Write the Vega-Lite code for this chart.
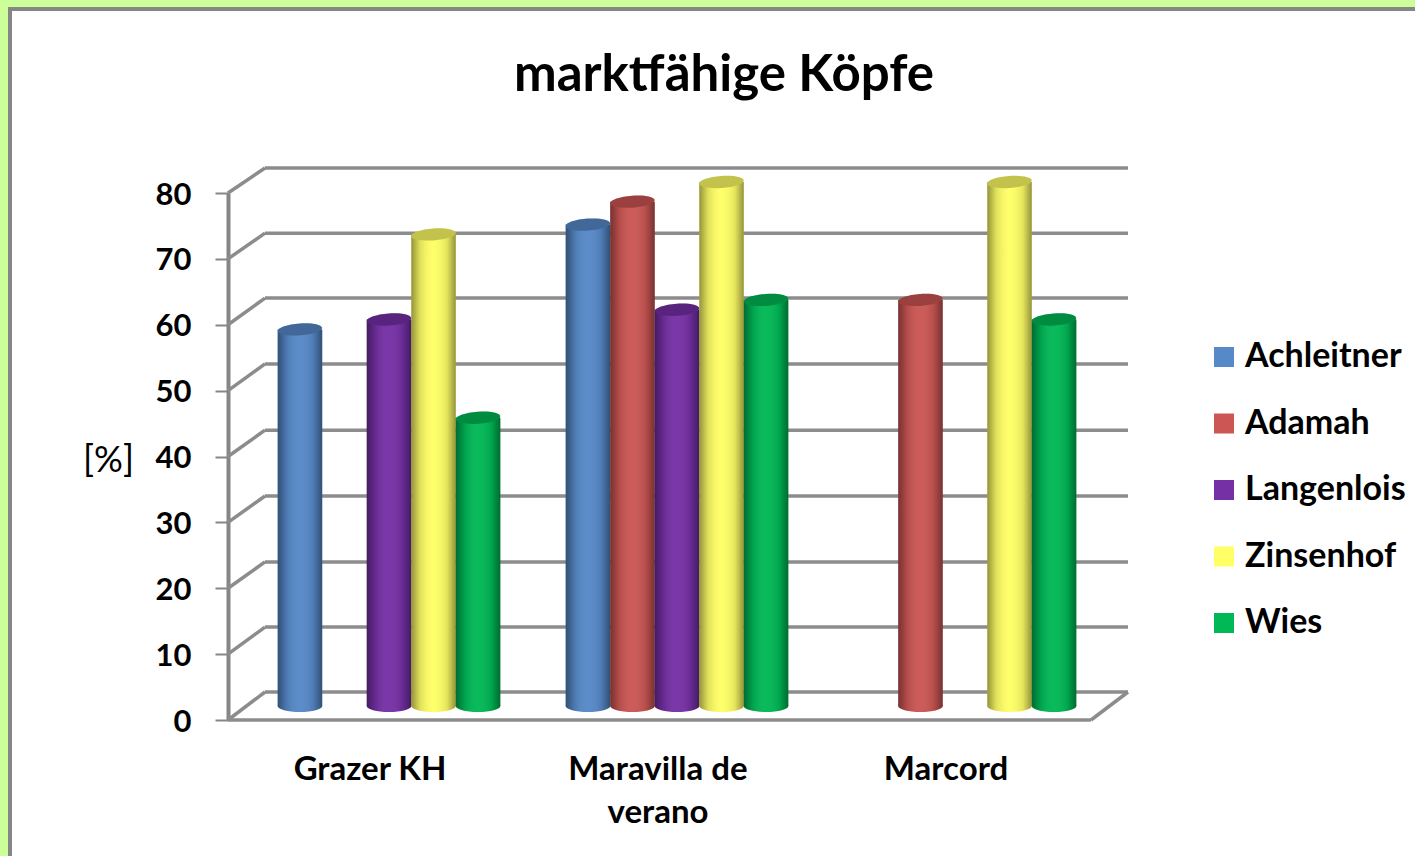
{"$schema":"https://vega.github.io/schema/vega-lite/v6.json","width":1410,"height":850,"autosize":{"type":"none"},"padding":{"left":10,"top":9,"right":-5,"bottom":-3},"background":"#ccff99","view":{"fill":"white","stroke":"#868686","strokeWidth":4},"title":{"text":"marktfähige Köpfe","font":"Lato","fontSize":51,"fontWeight":"bold","color":"#000000","anchor":"middle","dx":9,"offset":-93},"datasets":{"bars":[{"cat":"Grazer KH","series":"Achleitner","value":57.5},{"cat":"Grazer KH","series":"Langenlois","value":59},{"cat":"Grazer KH","series":"Zinsenhof","value":72},{"cat":"Grazer KH","series":"Wies","value":44},{"cat":"Maravilla de verano","series":"Achleitner","value":73.5},{"cat":"Maravilla de verano","series":"Adamah","value":77},{"cat":"Maravilla de verano","series":"Langenlois","value":60.5},{"cat":"Maravilla de verano","series":"Zinsenhof","value":80},{"cat":"Maravilla de verano","series":"Wies","value":62},{"cat":"Marcord","series":"Adamah","value":62},{"cat":"Marcord","series":"Zinsenhof","value":80},{"cat":"Marcord","series":"Wies","value":59}],"grid":[{"wx":0,"wx2":4.11,"wy":0,"wy2":4.25},{"wx":0,"wx2":4.11,"wy":10,"wy2":14.1},{"wx":0,"wx2":4.11,"wy":20,"wy2":24},{"wx":0,"wx2":4.11,"wy":30,"wy2":34},{"wx":0,"wx2":4.11,"wy":40,"wy2":44},{"wx":0,"wx2":4.11,"wy":50,"wy2":54.05},{"wx":0,"wx2":4.11,"wy":60,"wy2":64.05},{"wx":0,"wx2":4.11,"wy":70,"wy2":73.9},{"wx":0,"wx2":4.11,"wy":80,"wy2":83.8},{"wx":4.11,"wx2":100,"wy":4.25,"wy2":4.25},{"wx":4.11,"wx2":100,"wy":14.1,"wy2":14.1},{"wx":4.11,"wx2":100,"wy":24,"wy2":24},{"wx":4.11,"wx2":100,"wy":34,"wy2":34},{"wx":4.11,"wx2":100,"wy":44,"wy2":44},{"wx":4.11,"wx2":100,"wy":54.05,"wy2":54.05},{"wx":4.11,"wx2":100,"wy":64.05,"wy2":64.05},{"wx":4.11,"wx2":100,"wy":73.9,"wy2":73.9},{"wx":4.11,"wx2":100,"wy":83.8,"wy2":83.8},{"wx":0,"wx2":95.89,"wy":0,"wy2":0},{"wx":95.89,"wx2":100,"wy":0,"wy2":4.25}]},"resolve":{"scale":{"x":"independent","y":"independent"},"axis":{"x":"independent","y":"independent"}},"layer":[{"data":{"name":"grid"},"mark":{"type":"rule","color":"#8c8c8c","strokeWidth":3.5},"encoding":{"x":{"field":"wx","type":"quantitative","scale":{"domain":[0,100],"range":[218,1118]},"axis":null},"x2":{"field":"wx2"},"y":{"field":"wy","type":"quantitative","scale":{"domain":[0,80],"range":[711,184]},"axis":{"values":[0,10,20,30,40,50,60,70,80],"offset":-218,"grid":false,"domainColor":"#868686","domainWidth":4,"tickColor":"#868686","tickWidth":2,"tickSize":13,"labelFont":"Lato","labelFontSize":31,"labelFontWeight":"bold","labelColor":"#000000","labelPadding":24,"labelOffset":2,"title":"[%]","titleFont":"Lato","titleFontSize":36,"titleFontWeight":"normal","titleColor":"#000000","titleAngle":0,"titleX":-120,"titleY":451,"titleAlign":"center","titleBaseline":"middle"}},"y2":{"field":"wy2"}}},{"data":{"name":"bars"},"encoding":{"x":{"field":"cat","type":"nominal","sort":["Grazer KH","Maravilla de verano","Marcord"],"scale":{"domain":["Grazer KH","Maravilla de verano","Marcord"],"range":[235,1099],"paddingInner":0.227,"paddingOuter":0.1135},"axis":{"title":null,"orient":"bottom","offset":-139,"domain":false,"ticks":false,"labelAngle":0,"labelOffset":-19,"labelPadding":33,"labelFont":"Lato","labelFontSize":33,"labelFontWeight":"bold","labelColor":"#000000","labelLineHeight":43,"labelExpr":"datum.label == 'Maravilla de verano' ? ['Maravilla de','verano'] : datum.label"}},"xOffset":{"field":"series","type":"nominal","scale":{"domain":["Achleitner","Adamah","Langenlois","Zinsenhof","Wies"],"paddingInner":0,"paddingOuter":0}}},"layer":[{"mark":{"type":"point","filled":true,"opacity":1,"shape":"M-1,0 A1,0.27 0 1 1 1,0 A1,0.27 0 1 1 -1,0 Z","size":1980},"encoding":{"y":{"datum":0,"scale":{"domain":[0,80],"range":[697,173]},"type":"quantitative","axis":null},"color":{"field":"series","type":"nominal","scale":{"domain":["Achleitner","Adamah","Langenlois","Zinsenhof","Wies"],"range":["#5689c8","#cb5653","#7530a6","#ffff66","#00b855"]},"legend":{"title":null,"orient":"none","legendX":1197,"legendY":331,"symbolType":"square","symbolSize":400,"symbolStrokeWidth":0,"symbolOpacity":1,"labelFont":"Lato","labelFontSize":34,"labelFontWeight":"bold","labelColor":"#000000","labelOffset":4,"rowPadding":32.5,"labelLimit":220,"values":["Achleitner","Adamah","Langenlois","Zinsenhof","Wies"]}}}},{"mark":{"type":"point","filled":true,"opacity":1,"shape":"M-1,0 A1,0.27 0 1 1 1,0 A1,0.27 0 1 1 -1,0 Z","size":1980,"fill":{"gradient":"linear","x1":0,"y1":0,"x2":1,"y2":0,"stops":[{"offset":0,"color":"rgba(0,0,0,0.42)"},{"offset":0.2,"color":"rgba(0,0,0,0.12)"},{"offset":0.5,"color":"rgba(255,255,255,0.03)"},{"offset":0.8,"color":"rgba(0,0,0,0.1)"},{"offset":1,"color":"rgba(0,0,0,0.42)"}]}},"encoding":{"y":{"datum":0,"scale":{"domain":[0,80],"range":[697,173]},"type":"quantitative","axis":null}}},{"mark":{"type":"bar"},"encoding":{"y":{"field":"value","type":"quantitative","scale":{"domain":[0,80],"range":[697,173]},"axis":null},"color":{"field":"series","type":"nominal"}}},{"mark":{"type":"bar","fill":{"gradient":"linear","x1":0,"y1":0,"x2":1,"y2":0,"stops":[{"offset":0,"color":"rgba(0,0,0,0.42)"},{"offset":0.2,"color":"rgba(0,0,0,0.12)"},{"offset":0.5,"color":"rgba(255,255,255,0.03)"},{"offset":0.8,"color":"rgba(0,0,0,0.1)"},{"offset":1,"color":"rgba(0,0,0,0.42)"}]}},"encoding":{"y":{"field":"value","type":"quantitative","scale":{"domain":[0,80],"range":[697,173]},"axis":null}}},{"mark":{"type":"point","filled":true,"opacity":1,"angle":-4,"shape":"M-1,0 A1,0.27 0 1 1 1,0 A1,0.27 0 1 1 -1,0 Z","size":1980},"encoding":{"y":{"field":"value","type":"quantitative","scale":{"domain":[0,80],"range":[697,173]},"axis":null},"color":{"field":"series","type":"nominal"}}},{"mark":{"type":"point","filled":true,"opacity":1,"angle":-4,"color":"rgba(0,0,0,0.24)","shape":"M-1,0 A1,0.27 0 1 1 1,0 A1,0.27 0 1 1 -1,0 Z","size":1980},"encoding":{"y":{"field":"value","type":"quantitative","scale":{"domain":[0,80],"range":[697,173]},"axis":null}}}]}]}
